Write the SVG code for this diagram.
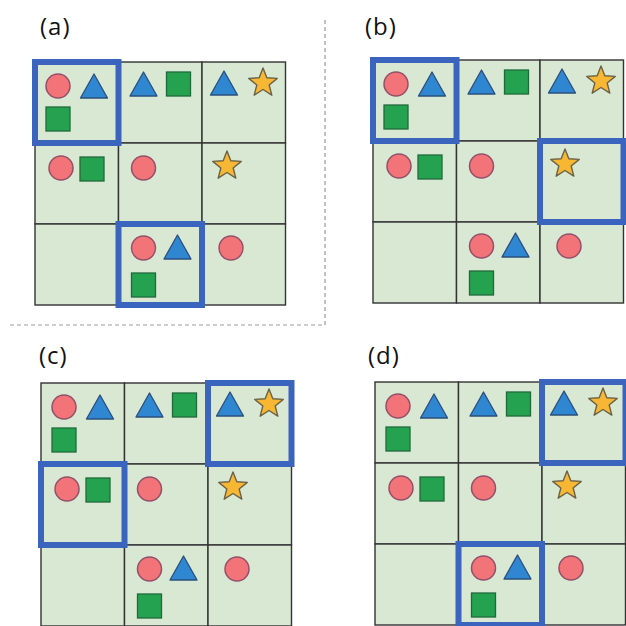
<svg xmlns="http://www.w3.org/2000/svg" xmlns:xlink="http://www.w3.org/1999/xlink" width="626" height="626" viewBox="0 0 626 626">
  <style>
    .cell { fill: #d9e8d2; stroke: #333333; stroke-width: 1.4; }
    .dot { fill: #f27479; stroke: #94506a; stroke-width: 1.5; }
    .tri { fill: #2f87d2; stroke: #2b4f7c; stroke-width: 1.3; stroke-linejoin: round; }
    .sq { fill: #25a24f; stroke: #1f6a3a; stroke-width: 1.3; }
    .star { fill: #f7b733; stroke: #6a6248; stroke-width: 1.4; stroke-linejoin: round; }
    .pick { fill: none; stroke: #3a64be; stroke-width: 6; }
    .sep { fill: none; stroke: #9a9a9a; stroke-width: 1.2; stroke-dasharray: 4 3; }
    .label { font-family: "Open Sans", "Liberation Sans", sans-serif; font-size: 24px; letter-spacing: 1px; fill: #111; }
  </style>
  <defs>
    <circle id="c" class="dot" r="12"/>
    <path id="t" class="tri" d="M0,0 L13.5,24 L-13.5,24 Z"/>
    <rect id="s" class="sq" width="24" height="24"/>
    <path id="st" class="star" d="M0,-15 L3.82,-5.26 L14.27,-4.64 L6.18,2.01 L8.82,12.14 L0,6.5 L-8.82,12.14 L-6.18,2.01 L-14.27,-4.64 L-3.82,-5.26 Z"/>

    <!-- 3x3 board with its items; cells 83.5 x 81 -->
    <g id="board">
      <rect class="cell" x="0" y="0" width="83.5" height="81"/>
      <rect class="cell" x="83.5" y="0" width="83.5" height="81"/>
      <rect class="cell" x="167" y="0" width="83.5" height="81"/>
      <rect class="cell" x="0" y="81" width="83.5" height="81"/>
      <rect class="cell" x="83.5" y="81" width="83.5" height="81"/>
      <rect class="cell" x="167" y="81" width="83.5" height="81"/>
      <rect class="cell" x="0" y="162" width="83.5" height="81"/>
      <rect class="cell" x="83.5" y="162" width="83.5" height="81"/>
      <rect class="cell" x="167" y="162" width="83.5" height="81"/>

      <!-- row 1 -->
      <use xlink:href="#c" x="23" y="24"/>
      <use xlink:href="#t" x="59" y="12"/>
      <use xlink:href="#s" x="11" y="45"/>
      <use xlink:href="#t" x="108.5" y="10"/>
      <use xlink:href="#s" x="131.5" y="10"/>
      <use xlink:href="#t" x="189" y="9"/>
      <use xlink:href="#st" x="228" y="21"/>

      <!-- row 2 -->
      <use xlink:href="#c" x="26" y="106"/>
      <use xlink:href="#s" x="45" y="95"/>
      <use xlink:href="#c" x="108.5" y="106"/>
      <use xlink:href="#st" x="192" y="104"/>

      <!-- row 3 -->
      <use xlink:href="#c" x="108.5" y="186"/>
      <use xlink:href="#t" x="142.5" y="173"/>
      <use xlink:href="#s" x="96.5" y="211"/>
      <use xlink:href="#c" x="196" y="186"/>
    </g>
  </defs>

  <rect width="626" height="626" fill="#ffffff"/>

  <!-- dashed separators -->
  <g id="connectors">
    <line class="sep" x1="325" y1="20" x2="325" y2="325"/>
    <line class="sep" x1="10" y1="325" x2="325" y2="325"/>
  </g>

  <g id="panel-a">
    <text class="label" x="40" y="35">(a)</text>
    <g transform="translate(35,62)">
      <use xlink:href="#board"/>
      <rect class="pick" x="0" y="0" width="83.5" height="81"/>
      <rect class="pick" x="83.5" y="162" width="83.5" height="81"/>
    </g>
  </g>

  <g id="panel-b">
    <text class="label" x="365" y="35">(b)</text>
    <g transform="translate(373,60)">
      <use xlink:href="#board"/>
      <rect class="pick" x="0" y="0" width="83.5" height="81"/>
      <rect class="pick" x="167" y="81" width="83.5" height="81"/>
    </g>
  </g>

  <g id="panel-c">
    <text class="label" x="39" y="364">(c)</text>
    <g transform="translate(41,383)">
      <use xlink:href="#board"/>
      <rect class="pick" x="167" y="0" width="83.5" height="81"/>
      <rect class="pick" x="0" y="81" width="83.5" height="81"/>
    </g>
  </g>

  <g id="panel-d">
    <text class="label" x="368" y="364">(d)</text>
    <g transform="translate(375,382)">
      <use xlink:href="#board"/>
      <rect class="pick" x="167" y="0" width="83.5" height="81"/>
      <rect class="pick" x="83.5" y="162" width="83.5" height="81"/>
    </g>
  </g>
</svg>
